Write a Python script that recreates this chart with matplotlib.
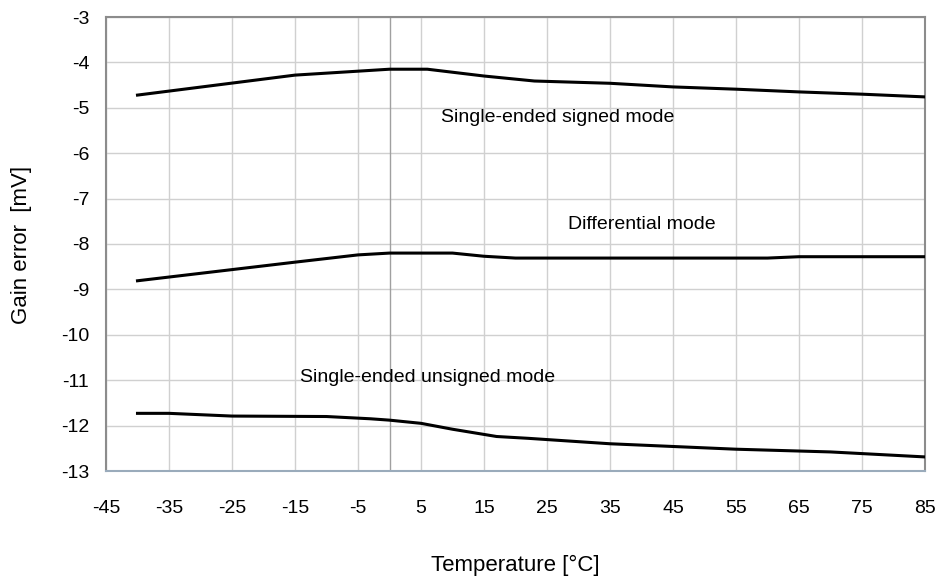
import numpy as np
import matplotlib
matplotlib.use("Agg")
import matplotlib.pyplot as plt

plt.rcParams['font.family'] = ['Liberation Sans', 'DejaVu Sans']
plt.rcParams['axes.unicode_minus'] = False

# ==================== DATA ====================
t_signed = [-40, -15, 0, 6, 15, 23, 35, 45, 55, 65, 75, 85]
g_signed = [-4.72, -4.28, -4.15, -4.15, -4.30, -4.41, -4.46, -4.54, -4.59, -4.65, -4.70, -4.76]

t_diff = [-40, -15, -5, 0, 10, 15, 20, 60, 65, 85]
g_diff = [-8.81, -8.40, -8.24, -8.20, -8.20, -8.27, -8.31, -8.31, -8.28, -8.28]

t_unsigned = [-40, -35, -25, -10, -3, 0, 5, 10, 17, 22, 35, 45, 55, 70, 85]
g_unsigned = [-11.73, -11.73, -11.79, -11.80, -11.85, -11.88, -11.95, -12.08, -12.24,
              -12.28, -12.40, -12.46, -12.52, -12.58, -12.69]

x_ticks = list(range(-45, 86, 10))
y_ticks = list(range(-13, -2))

# ==================== PLOT ====================
fig = plt.figure(figsize=(9.38, 5.82), dpi=100)
ax = fig.add_axes([106/938, 1 - 471/582, (925-106)/938, (471-17)/582])

ax.set_xlim(-45, 85)
ax.set_ylim(-13, -3)
ax.set_xticks(x_ticks)
ax.set_yticks(y_ticks)
ax.grid(True, color='#d0d0d0', lw=1.0)
ax.set_axisbelow(True)
ax.axvline(0, color='#a0a0a0', lw=1.0, zorder=1)

for t, g in [(t_signed, g_signed), (t_diff, g_diff), (t_unsigned, g_unsigned)]:
    ax.plot(t, g, color='black', lw=2.2, zorder=3)

ax.text(8.2, -5.22, 'Single-ended signed mode', fontsize=14, va='center')
ax.text(28.3, -7.56, 'Differential mode', fontsize=14, va='center')
ax.text(-14.2, -10.95, 'Single-ended unsigned mode', fontsize=14, va='center')

ax.tick_params(length=0, labelsize=14)
ax.tick_params(axis='x', pad=21)
ax.tick_params(axis='y', pad=12)

for side in ['left', 'top', 'right']:
    ax.spines[side].set_color('#8c8c8c')
    ax.spines[side].set_linewidth(1.5)
ax.spines['bottom'].set_color('#9aabbb')
ax.spines['bottom'].set_linewidth(1.5)

fig.text(22/938, 1 - 245/582, 'Gain error  [mV]', rotation=90, fontsize=16,
         ha='center', va='center')
fig.text(515/938, 1 - 565/582, 'Temperature [°C]', fontsize=16, ha='center', va='center')

fig.savefig('out.png', dpi=100)
